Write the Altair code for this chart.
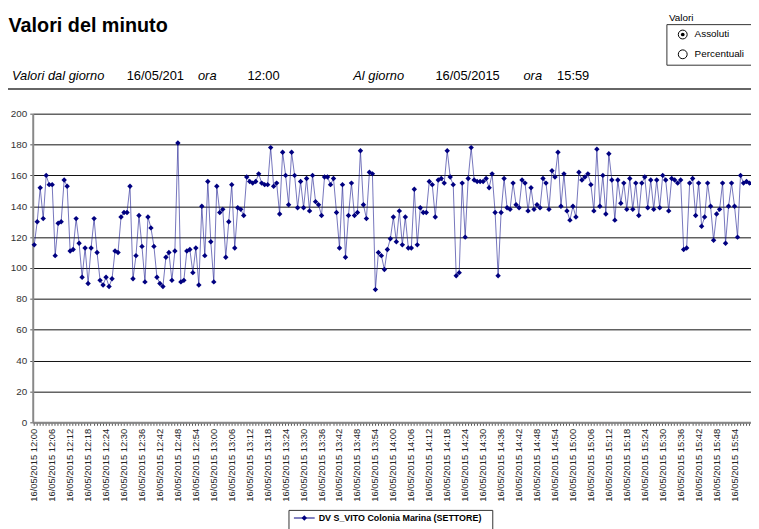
import altair as alt
import pandas as pd

FONT = "Liberation Sans, Arial, sans-serif"
TITLE = "Valori del minuto"
SERIES = "DV S_VITO Colonia Marina (SETTORE)"
DATE = "16/05/2015"
START_HOUR = 12
HEADER = [("Valori dal giorno", "italic"), ("16/05/201", "normal"), ("ora", "italic"), ("12:00", "normal"),
          ("Al giorno", "italic"), ("16/05/2015", "normal"), ("ora", "italic"), ("15:59", "normal")]
RADIO_TITLE = "Valori"
RADIO_OPTIONS = ["Assoluti", "Percentuali"]
Y_TICKS = [0, 20, 40, 60, 80, 100, 120, 140, 160, 180, 200]

VALUES = [
    115, 130, 152, 132, 160, 154, 154, 108, 129, 130, 157, 153, 111, 112, 132, 116, 94, 113, 90, 113,
    132, 110, 92, 89, 94, 88, 93, 111, 110, 133, 136, 136, 153, 93, 108, 134, 114, 91, 133, 126,
    114, 94, 90, 88, 107, 110, 92, 111, 181, 91, 92, 111, 112, 97, 113, 89, 140, 108, 156, 117,
    91, 153, 136, 138, 107, 130, 154, 113, 139, 138, 134, 159, 156, 155, 156, 161, 155, 154, 154, 178,
    153, 155, 135, 175, 160, 141, 175, 160, 139, 156, 139, 158, 137, 160, 143, 141, 134, 159, 159, 154,
    158, 136, 113, 154, 107, 134, 155, 134, 136, 176, 141, 132, 162, 161, 86, 110, 108, 99, 112, 119,
    133, 117, 137, 115, 133, 113, 113, 151, 115, 139, 136, 136, 156, 154, 133, 157, 158, 155, 176, 159,
    154, 95, 97, 155, 120, 158, 178, 157, 156, 156, 156, 158, 152, 161, 136, 95, 136, 158, 139, 138,
    155, 141, 139, 157, 155, 137, 152, 138, 141, 139, 158, 155, 138, 163, 159, 175, 140, 161, 137, 131,
    140, 133, 162, 157, 159, 161, 154, 137, 177, 140, 160, 135, 174, 157, 131, 157, 142, 155, 138, 158,
    138, 155, 134, 155, 159, 139, 157, 138, 157, 139, 160, 157, 137, 158, 157, 155, 157, 112, 113, 155,
    158, 134, 155, 127, 133, 155, 140, 118, 135, 138, 155, 116, 140, 155, 140, 120, 160, 155, 156, 155,
]
TIMES = [f"{DATE} {START_HOUR + i // 60}:{i % 60:02d}" for i in range(len(VALUES))]

df = pd.DataFrame({"t": TIMES, "v": VALUES, "s": [SERIES] * len(VALUES)})

W, H = 726, 312

x_enc = alt.X(
    "t:O", sort=None,
    scale=alt.Scale(type="band", paddingInner=0, paddingOuter=0),
    axis=alt.Axis(title=None, labelAngle=-90, labelOverlap=False,
                  labelExpr="toNumber(slice(datum.label, -2)) % 6 == 0 ? datum.label : ''",
                  tickSize=3, tickColor="#555", labelPadding=3, labelFontSize=9.5, labelFont=FONT,
                  labelColor="#222", domainColor="#888", domainWidth=2, grid=False),
)
y_enc = alt.Y(
    "v:Q", scale=alt.Scale(domain=[0, 200], nice=False),
    axis=alt.Axis(title=None, values=Y_TICKS, grid=True, gridColor="#111", gridWidth=1, gridOpacity=1,
                  domainColor="#888", domainWidth=2, tickSize=3, tickColor="#555", labelPadding=3,
                  labelFontSize=10, labelFont=FONT, labelColor="#333"),
)

line = alt.Chart(df).mark_line(color="#1a1a90", strokeWidth=1, opacity=0.6).encode(x=x_enc, y=y_enc)
pts = alt.Chart(df).mark_point(shape="diamond", filled=True, size=30, color="#000080", opacity=1).encode(x=x_enc, y=y_enc)

one = alt.Data(values=[{"k": 1}])


def txt(text, x, y, size=13, style="normal", weight="normal", baseline="alphabetic", align="left"):
    return alt.Chart(one).mark_text(text=text, align=align, baseline=baseline, fontSize=size,
                                    fontStyle=style, fontWeight=weight, font=FONT, color="#000").encode(
        x=alt.value(x), y=alt.value(y))


def hrule(x1, x2, y, color="#333", width=1.5):
    return alt.Chart(one).mark_rule(color=color, strokeWidth=width).encode(
        x=alt.value(x1), x2=alt.value(x2), y=alt.value(y))


def box(x1, x2, y1, y2):
    return alt.Chart(one).mark_rect(fill="white", stroke="#333", strokeWidth=1).encode(
        x=alt.value(x1), x2=alt.value(x2), y=alt.value(y1), y2=alt.value(y2))


def sym(x, y, shape, size, filled, color="#000"):
    return alt.Chart(one).mark_point(shape=shape, size=size, filled=filled, color=color, opacity=1,
                                     strokeWidth=1).encode(x=alt.value(x), y=alt.value(y))


layers = [line, pts]
layers.append(txt(TITLE, -24.5, -82.5, size=20, weight="bold"))
header_x = [-21, 95, 167, 217, 324, 407, 496, 530]
for (t, st), hx in zip(HEADER, header_x):
    layers.append(txt(t, hx, -34.5, size=13, style=st))
layers.append(hrule(-25, 726, -25))

# radio box
layers.append(txt(RADIO_TITLE, 643, -94, size=10))
layers.append(box(641, 740, -90, -49))
layers.append(sym(657, -80, "circle", 80, False))
layers.append(sym(657, -80, "circle", 14, True))
layers.append(sym(657, -60, "circle", 80, False))
layers.append(txt(RADIO_OPTIONS[0], 669, -80, size=10, baseline="middle"))
layers.append(txt(RADIO_OPTIONS[1], 669, -60, size=10, baseline="middle"))

# legend
layers.append(box(259, 465, 401, 430))
layers.append(hrule(264, 285, 408.7, color="#000080", width=1))
layers.append(sym(274.5, 408.7, "diamond", 30, True, color="#000080"))
layers.append(txt(SERIES, 289, 408.7, size=9, weight="bold", baseline="middle"))

chart = alt.layer(*layers).properties(
    width=W, height=H,
    autosize=alt.AutoSizeParams(type="none"),
    padding={"left": 25, "top": 104, "right": 0, "bottom": 105},
    background="white",
).configure_view(stroke=None)

chart.save("out.html", embed_options={"renderer": "svg", "actions": False})
